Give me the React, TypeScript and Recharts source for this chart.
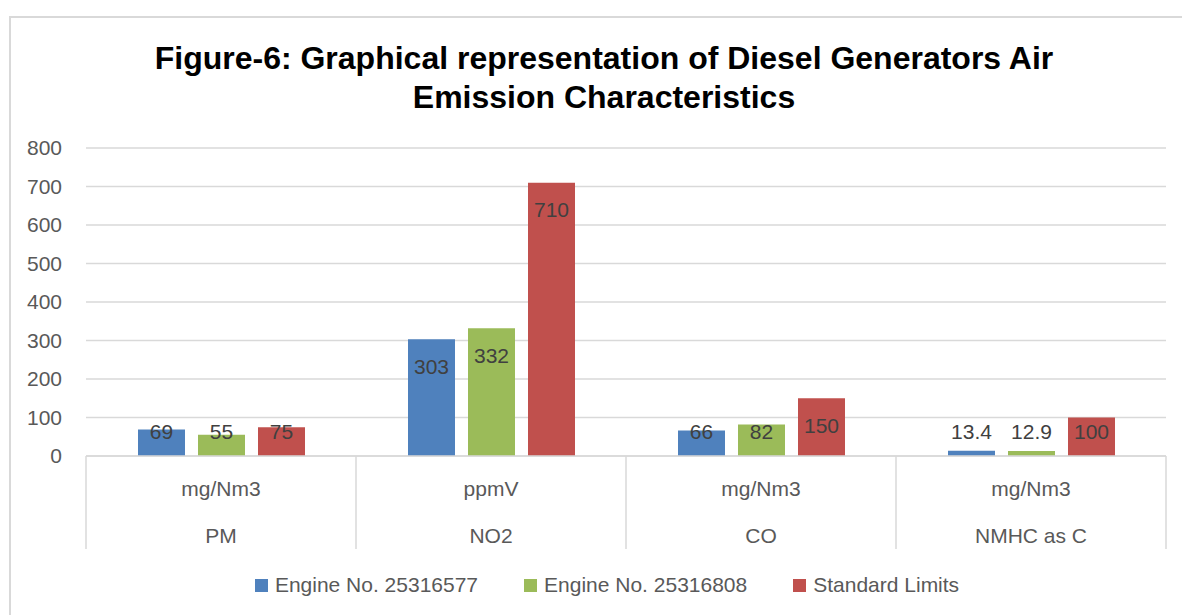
import { BarChart, Bar, XAxis, YAxis, CartesianGrid, LabelList } from "recharts";

const pollutants = ["PM", "NO2", "CO", "NMHC as C"];
const units = ["mg/Nm3", "ppmV", "mg/Nm3", "mg/Nm3"];
const engine1 = [69, 303, 66, 13.4];
const engine2 = [55, 332, 82, 12.9];
const limits = [75, 710, 150, 100];
const yTicks = [0, 100, 200, 300, 400, 500, 600, 700, 800];

const seriesNames = ["Engine No. 25316577", "Engine No. 25316808", "Standard Limits"];
const seriesColors = ["#4F81BD", "#9BBB59", "#C0504D"];

const data = pollutants.map((p, i) => ({
  pollutant: p,
  unit: units[i],
  e1: engine1[i],
  e2: engine2[i],
  lim: limits[i],
}));

const FONT = "'Liberation Sans', Arial, sans-serif";
const GRID = "#d9d9d9";
const TEXT = "#595959";

// label sits inside the top of the bar, but never lower than just above the axis
const ValueLabel = (props: any) => {
  const { x, y, width, height, value } = props;
  const base = y + height;
  const cy = Math.min(y + 27, base - 25);
  return (
    <text
      x={x + width / 2}
      y={cy}
      textAnchor="middle"
      dominantBaseline="central"
      fill="#404040"
      fontSize={21}
      fontFamily={FONT}
    >
      {value}
    </text>
  );
};

const makeTick = (labels: string[], lineLen: number) => (props: any) => {
  const { x, y, payload, index } = props;
  const half = payload.offset ?? 135;
  const i = index ?? payload.index;
  return (
    <g>
      <line x1={x - half} x2={x - half} y1={y} y2={y + lineLen} stroke={GRID} strokeWidth={1.5} />
      {i === labels.length - 1 && (
        <line x1={x + half} x2={x + half} y1={y} y2={y + lineLen} stroke={GRID} strokeWidth={1.5} />
      )}
      <text x={x} y={y + 32} textAnchor="middle" dominantBaseline="central" fill={TEXT} fontSize={21} fontFamily={FONT}>
        {labels[i]}
      </text>
    </g>
  );
};

const UnitTick = makeTick(units, 47);
const PollutantTick = makeTick(pollutants, 46);

export default function App() {
  return (
    <div style={{ position: "absolute", left: 0, top: 0, width: 1182, height: 615, overflow: "hidden", background: "#fff" }}>
      <div
        style={{
          position: "absolute",
          left: 9,
          top: 16,
          width: 1250,
          height: 700,
          border: `2px solid ${GRID}`,
        }}
      />
      <div
        style={{
          position: "absolute",
          left: 0,
          width: 1208,
          top: 39,
          textAlign: "center",
          fontFamily: FONT,
          fontWeight: "bold",
          fontSize: 32,
          lineHeight: "39px",
          color: "#000",
        }}
      >
        Figure-6: Graphical representation of Diesel Generators Air
        <br />
        Emission Characteristics
      </div>
      <div style={{ position: "absolute", left: 0, top: 0 }}>
        <BarChart
          width={1182}
          height={615}
          data={data}
          margin={{ top: 148, right: 16, bottom: 66, left: 0 }}
          barSize={47}
          barGap={13}
        >
          <CartesianGrid vertical={false} stroke={GRID} strokeWidth={1.5} />
          <XAxis
            xAxisId="a1"
            dataKey="pollutant"
            height={47}
            tickLine={false}
            tickSize={0}
            tickMargin={0}
            axisLine={{ stroke: GRID, strokeWidth: 1.5 }}
            tick={UnitTick}
            interval={0}
          />
          <XAxis
            xAxisId="a2"
            dataKey="pollutant"
            height={46}
            tickLine={false}
            tickSize={0}
            tickMargin={0}
            axisLine={false}
            tick={PollutantTick}
            interval={0}
          />
          <YAxis
            width={86}
            domain={[0, 800]}
            ticks={yTicks}
            axisLine={false}
            tickLine={false}
            tickSize={0}
            tickMargin={24}
            tick={{ fill: TEXT, fontSize: 21, fontFamily: FONT }}
          />
          {(["e1", "e2", "lim"] as const).map((k, i) => (
            <Bar key={k} xAxisId="a1" dataKey={k} name={seriesNames[i]} fill={seriesColors[i]} isAnimationActive={false}>
              <LabelList dataKey={k} content={ValueLabel} />
            </Bar>
          ))}
        </BarChart>
      </div>
      <div
        style={{
          position: "absolute",
          left: 0,
          width: 1214,
          top: 573,
          display: "flex",
          justifyContent: "center",
          gap: 46,
          fontFamily: FONT,
          fontSize: 21,
          color: TEXT,
        }}
      >
        {seriesNames.map((n, i) => (
          <div key={n} style={{ display: "flex", alignItems: "center", gap: 7 }}>
            <span style={{ display: "inline-block", width: 13, height: 13, background: seriesColors[i] }} />
            <span>{n}</span>
          </div>
        ))}
      </div>
    </div>
  );
}
